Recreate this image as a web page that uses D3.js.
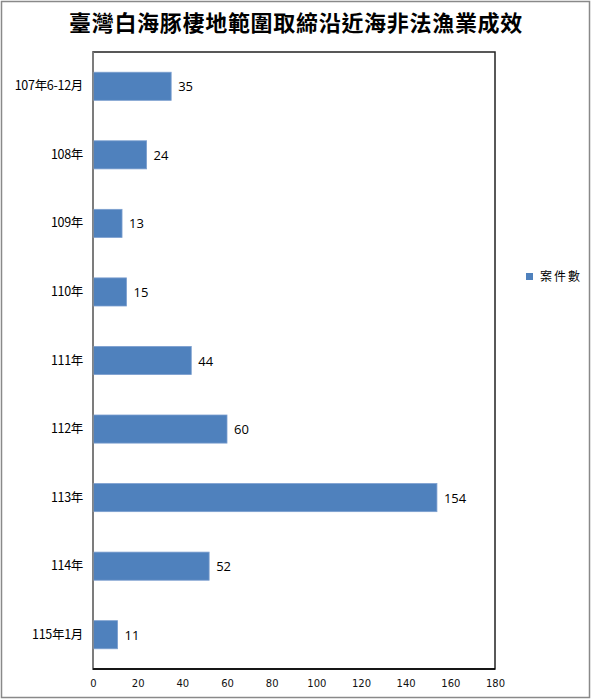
<!DOCTYPE html>
<html><head><meta charset="utf-8">
<script src="https://cdn.jsdelivr.net/npm/d3@7"></script>
<style>html,body{margin:0;padding:0;background:#fff;}</style>
</head><body>
<svg id="c" width="592" height="699"></svg>
<script>
const title = "臺灣白海豚棲地範圍取締沿近海非法漁業成效";
const categories = ["107年6-12月","108年","109年","110年","111年","112年","113年","114年","115年1月"];
const values = [35,24,13,15,44,60,154,52,11];
const xTicks = [0,20,40,60,80,100,120,140,160,180];
const seriesName = "案件數";

const svg = d3.select("#c");
const W = 592, H = 699;
const m = {left:93, right:495, top:52, bottom:669};

svg.append("rect").attr("x",1.5).attr("y",1.5).attr("width",W-4).attr("height",H-3)
  .attr("fill","#fff").attr("stroke","#898989").attr("stroke-width",1.5);

svg.append("text").attr("x",296).attr("y",31).attr("text-anchor","middle")
  .attr("font-family","'Noto Sans CJK TC','Noto Sans CJK SC',sans-serif")
  .attr("font-weight","bold").attr("font-size",22).attr("letter-spacing",0.7)
  .attr("fill","#000").text(title);

const x = d3.scaleLinear().domain([0,180]).range([m.left,m.right]);
const y = d3.scaleBand().domain(categories).range([m.top,m.bottom]).paddingInner(0.59).paddingOuter(0.295);

svg.append("rect").attr("x",m.left).attr("y",m.top).attr("width",m.right-m.left).attr("height",m.bottom-m.top)
  .attr("fill","none").attr("stroke","#222").attr("stroke-width",1.5);

svg.append("g").selectAll("rect").data(values).join("rect")
  .attr("x",x(0)).attr("y",(d,i)=>y(categories[i]))
  .attr("width",d=>x(d)-x(0)).attr("height",y.bandwidth())
  .attr("fill","#4F81BD").attr("stroke","#7C9FCF").attr("stroke-width",0.8);

svg.append("g").selectAll("text").data(values).join("text")
  .attr("x",d=>x(d)+7).attr("y",(d,i)=>y(categories[i])+y.bandwidth()/2+5)
  .attr("font-family","'Open Sans','DejaVu Sans',sans-serif").attr("font-size",13)
  .attr("fill","#000").text(d=>d);

svg.append("line").attr("x1",m.left).attr("x2",m.left).attr("y1",m.top).attr("y2",m.bottom)
  .attr("stroke","#898989").attr("stroke-width",1.5);
svg.append("line").attr("x1",m.left).attr("x2",m.right).attr("y1",m.bottom).attr("y2",m.bottom)
  .attr("stroke","#000").attr("stroke-width",1.5);

const yAxis = d3.axisLeft(y).tickSize(0).tickPadding(10);
const gy = svg.append("g").attr("transform",`translate(${m.left},0)`).call(yAxis);
gy.select(".domain").remove();
gy.selectAll("text").attr("font-family","'Noto Sans CJK TC','Liberation Sans',sans-serif")
  .attr("font-size",12.5).attr("fill","#000").attr("letter-spacing",-0.3);

const xAxis = d3.axisBottom(x).tickValues(xTicks).tickSize(0).tickPadding(11);
const gx = svg.append("g").attr("transform",`translate(0,${m.bottom})`).call(xAxis);
gx.select(".domain").remove();
gx.selectAll("text").attr("font-family","'DejaVu Sans',sans-serif").attr("font-size",10).attr("fill","#111");

svg.append("rect").attr("x",526).attr("y",273).attr("width",7).attr("height",7).attr("fill","#4F81BD");
svg.append("text").attr("x",540).attr("y",281).attr("font-family","'Noto Sans CJK TC',sans-serif")
  .attr("font-size",12).attr("letter-spacing",2).attr("fill","#000").text(seriesName);
</script>
</body></html>
